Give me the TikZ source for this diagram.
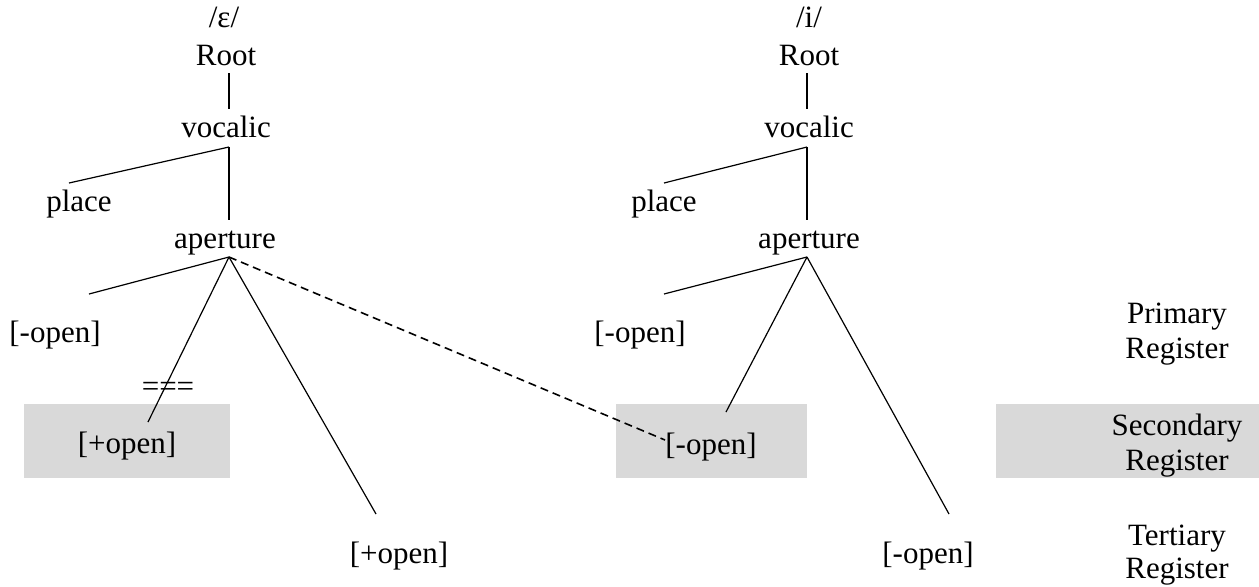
\documentclass[tikz,border=0pt]{standalone}
\usepackage{fontspec}
\setmainfont{Liberation Serif}
\begin{document}
\begin{tikzpicture}[x=0.5pt,y=-0.5pt,
  lbl/.style={inner sep=0pt, anchor=base, font=\fontsize{15.5}{17.5}\selectfont},
  edge/.style={line width=0.6pt},
  stem/.style={line width=1pt},
  dashedge/.style={line width=0.8pt, dash pattern=on 4pt off 2.5pt},
  regbox/.style={fill=black!15, draw=none, inner sep=0pt, anchor=north west}]
\useasboundingbox (0,0) rectangle (1259,586);
% register boxes
\node[regbox, minimum width=103pt, minimum height=37pt] (boxL) at (24,404) {};
\node[regbox, minimum width=95.5pt, minimum height=37pt] (boxM) at (616,404) {};
\node[regbox, minimum width=131.5pt, minimum height=37pt] (boxR) at (996,404) {};
% left tree
\node[lbl] (segL) at (224,27) {/ɛ/};
\node[lbl] (rootL) at (226,65) {Root};
\node[lbl] (vocL) at (226,137) {vocalic};
\node[lbl] (placeL) at (79,211) {place};
\node[lbl] (aperL) at (225,248) {aperture};
\node[lbl] (minusL) at (55,342) {[-open]};
\node[lbl] (eqL) at (168,396) {===};
\node[lbl] (plusS) at (127,453) {[+open]};
\node[lbl] (plusT) at (399,563) {[+open]};
% right tree
\node[lbl] (segR) at (809,27) {/i/};
\node[lbl] (rootR) at (809,65) {Root};
\node[lbl] (vocR) at (809,137) {vocalic};
\node[lbl] (placeR) at (664,211) {place};
\node[lbl] (aperR) at (809,248) {aperture};
\node[lbl] (minusR) at (640,342) {[-open]};
\node[lbl] (minusS) at (711,454) {[-open]};
\node[lbl] (minusT) at (928,563) {[-open]};
% register labels
\node[lbl] (prim1) at (1177,323) {Primary};
\node[lbl] (prim2) at (1177,358) {Register};
\node[lbl] (sec1) at (1177,435) {Secondary};
\node[lbl] (sec2) at (1177,470) {Register};
\node[lbl] (ter1) at (1177,545) {Tertiary};
\node[lbl] (ter2) at (1177,578) {Register};
% connector end points, left
\coordinate (rootLb) at (229,73);
\coordinate (vocLt) at (229,109);
\coordinate (vocLj) at (229,147);
\coordinate (placeLt) at (69,183);
\coordinate (aperLt) at (229,220);
\coordinate (aperLj) at (229,257);
\coordinate (minusLt) at (89,294);
\coordinate (plusSt) at (148,422);
\coordinate (plusTt) at (376,514);
\coordinate (minusSl) at (665,440);
% connector end points, right
\coordinate (rootRb) at (807,73);
\coordinate (vocRt) at (807,109);
\coordinate (vocRj) at (807,147);
\coordinate (placeRt) at (664,183);
\coordinate (aperRt) at (807,220);
\coordinate (aperRj) at (807,257);
\coordinate (minusRt) at (664,294);
\coordinate (minusSt) at (726,412);
\coordinate (minusTt) at (949,514);
% connectors left
\draw[stem] (rootLb) -- (vocLt);
\draw[edge] (vocLj) -- (placeLt);
\draw[stem] (vocLj) -- (aperLt);
\draw[edge] (aperLj) -- (minusLt);
\draw[edge] (aperLj) -- (plusSt);
\draw[edge] (aperLj) -- (plusTt);
\draw[dashedge] (aperLj) -- (minusSl);
% connectors right
\draw[stem] (rootRb) -- (vocRt);
\draw[edge] (vocRj) -- (placeRt);
\draw[stem] (vocRj) -- (aperRt);
\draw[edge] (aperRj) -- (minusRt);
\draw[edge] (aperRj) -- (minusSt);
\draw[edge] (aperRj) -- (minusTt);
\end{tikzpicture}
\end{document}
